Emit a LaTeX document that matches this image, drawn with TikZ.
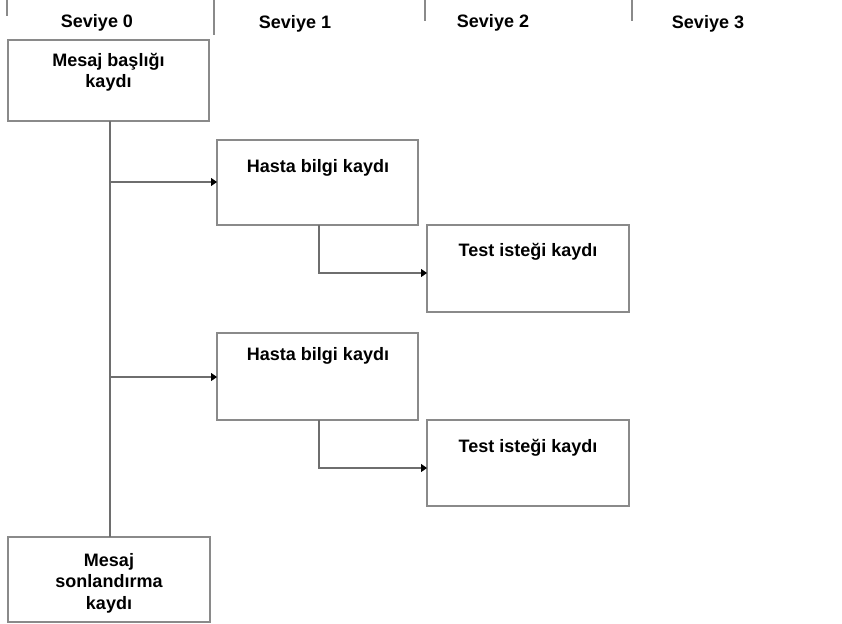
\documentclass[tikz,border=0pt]{standalone}
\usepackage{fontspec}
\setmainfont{Liberation Sans}
\usetikzlibrary{arrows.meta}
\definecolor{boxline}{HTML}{8A8A8A}
\definecolor{linkline}{HTML}{6E6E6E}
\tikzset{
  recbox/.style={draw=boxline, line width=1.2pt, fill=white},
  rectext/.style={font=\bfseries\fontsize{18}{21.5}\selectfont, align=center, inner sep=0pt, anchor=base},
  levelhead/.style={font=\bfseries\fontsize{18}{21}\selectfont, inner sep=0pt, anchor=base},
  separator/.style={draw=boxline, line width=1.2pt},
  link/.style={draw=linkline, line width=1.2pt},
  linkarrow/.style={link, -{Triangle[length=6pt,width=8pt,fill=black,color=black]}}
}
\begin{document}
\begin{tikzpicture}[x=1pt,y=-1pt]
\useasboundingbox (0,0) rectangle (842,623);

% column headings and separators
\node[levelhead] (h0) at (97,28) {Seviye 0};
\node[levelhead] (h1) at (295,29) {Seviye 1};
\node[levelhead] (h2) at (493,28) {Seviye 2};
\node[levelhead] (h3) at (708,29) {Seviye 3};
\draw[separator] (7,0) -- (7,16);
\draw[separator] (214,0) -- (214,35);
\draw[separator] (425,0) -- (425,21);
\draw[separator] (632,0) -- (632,21);

% record boxes (multi-line texts are anchored at their last baseline)
\draw[recbox] (8,40) rectangle (209,121);
\node[rectext] (msh) at (108.5,88) {Mesaj başlığı\\kaydı};
\coordinate (mshb) at (110,121);

\draw[recbox] (217,140) rectangle (418,225);
\node[rectext] (pid1) at (318,172) {Hasta bilgi kaydı};
\coordinate (pid1l) at (217,182);
\coordinate (pid1b) at (319,225);

\draw[recbox] (427,225) rectangle (629,312);
\node[rectext] (obr1) at (528,256) {Test isteği kaydı};
\coordinate (obr1l) at (427,273);

\draw[recbox] (217,333) rectangle (418,420);
\node[rectext] (pid2) at (318,360) {Hasta bilgi kaydı};
\coordinate (pid2l) at (217,377);
\coordinate (pid2b) at (319,420);

\draw[recbox] (427,420) rectangle (629,506);
\node[rectext] (obr2) at (528,452) {Test isteği kaydı};
\coordinate (obr2l) at (427,468);

\draw[recbox] (8,537) rectangle (210,622);
\node[rectext] (trl) at (109,609) {Mesaj\\sonlandırma\\kaydı};
\coordinate (trlt) at (110,537);

% connectors
\draw[link] (mshb) -- (trlt);
\draw[linkarrow] (mshb |- pid1l) -- (pid1l);
\draw[linkarrow] (mshb |- pid2l) -- (pid2l);
\draw[linkarrow] (pid1b) |- (obr1l);
\draw[linkarrow] (pid2b) |- (obr2l);
\end{tikzpicture}
\end{document}
